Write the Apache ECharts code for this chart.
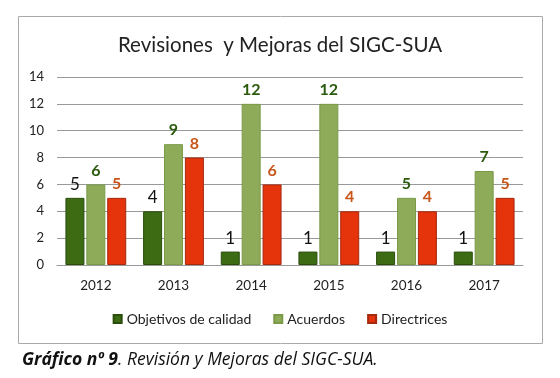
<!DOCTYPE html>
<html><head><meta charset="utf-8">
<script src="https://cdn.jsdelivr.net/npm/echarts@6/dist/echarts.min.js"></script>
<style>html,body{margin:0;padding:0;background:#fff}#c{width:560px;height:378px}</style>
</head><body><div id="c"></div>
<script>
const categories = ['2012','2013','2014','2015','2016','2017'];
const objetivos = [5,4,1,1,1,1];
const acuerdos = [6,9,12,12,5,7];
const directrices = [5,8,6,4,4,5];
const seriesNames = ['Objetivos de calidad','Acuerdos','Directrices'];
const yTicks = {min:0,max:14,interval:2};

const font = 'Lato, "Open Sans", sans-serif';
const chart = echarts.init(document.getElementById('c'));
chart.setOption({
  animation:false,
  title:[{
    text:'Revisiones  y Mejoras del SIGC-SUA',
    left:'center', top:30,
    textStyle:{fontFamily:font,fontSize:20.5,fontWeight:'normal',color:'#222'}
  },{
    text:'{b|Gráfico nº 9}{i|. Revisión y Mejoras del SIGC-SUA.}',
    left:17, top:346,
    textStyle:{fontWeight:'normal',rich:{
      b:{fontFamily:'"Open Sans", sans-serif',fontSize:17.5,fontWeight:'bold',fontStyle:'italic',color:'#111'},
      i:{fontFamily:'"Open Sans", sans-serif',fontSize:17.5,fontWeight:'normal',fontStyle:'italic',color:'#111'}
    }}
  }],
  graphic:[{type:'rect',shape:{x:18.5,y:16.5,width:524,height:327},style:{fill:'none',stroke:'#aaa',lineWidth:1},z:-1}],
  legend:{
    data:seriesNames, bottom:47, left:'center',
    itemWidth:8,itemHeight:8,itemGap:22,icon:'rect',
    textStyle:{fontFamily:font,fontSize:14,color:'#222'}
  },
  grid:{left:57,right:37,top:77,bottom:113},
  xAxis:{type:'category',data:categories,
    axisLine:{lineStyle:{color:'#999'}},axisTick:{show:false},
    axisLabel:{fontFamily:font,fontSize:13.5,color:'#222',margin:14}},
  yAxis:{type:'value',min:yTicks.min,max:yTicks.max,interval:yTicks.interval,
    axisLine:{show:false},axisTick:{show:false},
    splitLine:{lineStyle:{color:'#999'}},
    axisLabel:{fontFamily:font,fontSize:13,color:'#222',margin:13}},
  series:[
    {name:seriesNames[0],type:'bar',data:objetivos,barWidth:19,barGap:'10%',
     itemStyle:{color:'#3d6b14',borderColor:'#2a4d0c',borderWidth:1},
     label:{show:true,position:'top',distance:5,fontFamily:font,fontSize:17,color:'#111'}},
    {name:seriesNames[1],type:'bar',data:acuerdos,barWidth:19,
     itemStyle:{color:'#8dab58',borderColor:'#7a9a48',borderWidth:1},
     label:{show:true,position:'top',distance:6,fontFamily:font,fontSize:16,fontWeight:'bold',color:'#2a5a0e'}},
    {name:seriesNames[2],type:'bar',data:directrices,barWidth:19,
     itemStyle:{color:'#e5330b',borderColor:'#a52a10',borderWidth:1},
     label:{show:true,position:'top',distance:6,fontFamily:font,fontSize:16,fontWeight:'bold',color:'#c8561a'}}
  ]
});
</script></body></html>
